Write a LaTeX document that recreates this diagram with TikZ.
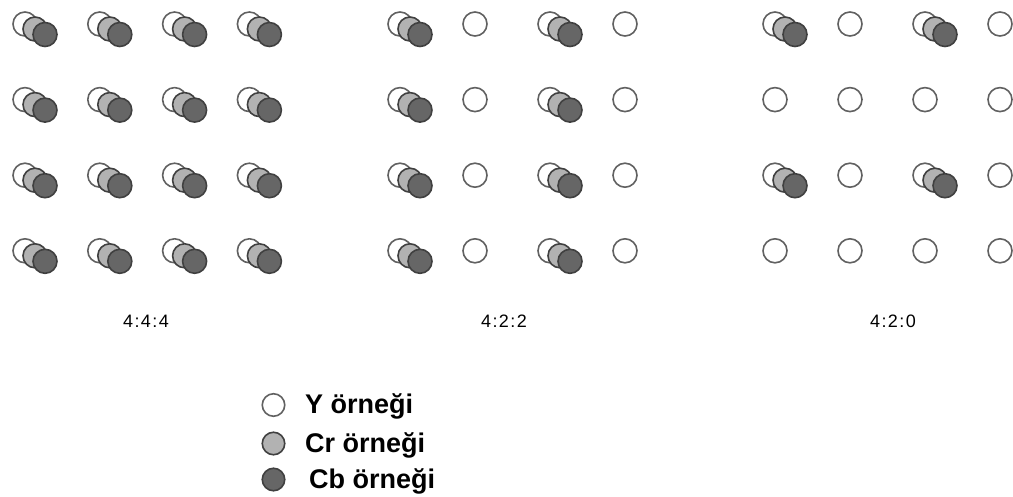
\documentclass[tikz,border=0pt]{standalone}
\usepackage{fontspec}
\setmainfont{Liberation Sans}
\definecolor{ygray}{gray}{0.38}
\definecolor{cgray}{gray}{0.25}
\definecolor{crfill}{gray}{0.70}
\definecolor{cbfill}{gray}{0.40}
\newcommand\smpgroup[3]{%
  \node[ysmp] (#1-y) at (#2,#3) {};
  \node[crsmp] (#1-cr) at (#2+10,#3+5) {};
  \node[cbsmp] (#1-cb) at (#2+20,#3+10.5) {};
}
\newcommand\ratio[3]{#1\kern1.4pt:\kern1.4pt#2\kern1.4pt:\kern1.4pt#3}
\begin{document}
\begin{tikzpicture}[x=1pt,y=-1pt,
  smp/.style={circle,inner sep=0pt,minimum size=24pt,line width=1.6pt},
  ysmp/.style={smp,draw=ygray,fill=white},
  crsmp/.style={smp,draw=cgray,fill=crfill},
  cbsmp/.style={smp,draw=cgray,fill=cbfill},
  lab/.style={font=\fontsize{18}{18}\selectfont,anchor=base,inner sep=0pt},
  leg/.style={font=\fontsize{27}{27}\selectfont\bfseries,anchor=base west,inner sep=0pt}]
\useasboundingbox (0,0) rectangle (1013,497);
% 4:4:4
\foreach \c in {0,...,3}{
  \foreach \r in {0,...,3}{
    \pgfmathsetmacro\xx{25+74.8*\c}
    \pgfmathsetmacro\yy{24+75.6*\r}
    \smpgroup{a\c\r}{\xx}{\yy}
  }
}
% 4:2:2
\foreach \c in {0,...,3}{
  \foreach \r in {0,...,3}{
    \pgfmathsetmacro\xx{400+75*\c}
    \pgfmathsetmacro\yy{24+75.6*\r}
    \ifodd\c
      \node[ysmp] (b\c\r-y) at (\xx,\yy) {};
    \else
      \smpgroup{b\c\r}{\xx}{\yy}
    \fi
  }
}
% 4:2:0
\foreach \c in {0,...,3}{
  \foreach \r in {0,...,3}{
    \pgfmathsetmacro\xx{775+75*\c}
    \pgfmathsetmacro\yy{24+75.6*\r}
    \pgfmathtruncatemacro\isgrp{(mod(\c,2)==0 && mod(\r,2)==0) ? 1 : 0}
    \ifnum\isgrp=1
      \smpgroup{c\c\r}{\xx}{\yy}
    \else
      \node[ysmp] (c\c\r-y) at (\xx,\yy) {};
    \fi
  }
}
% labels
\node[lab] (l444) at (146,328) {\ratio{4}{4}{4}};
\node[lab] (l422) at (504,328) {\ratio{4}{2}{2}};
\node[lab] (l420) at (893,328) {\ratio{4}{2}{0}};
% legend
\node[ysmp,minimum size=22.5pt] (legY) at (273.5,405) {};
\node[crsmp,minimum size=22.5pt] (legCr) at (273.5,443.5) {};
\node[cbsmp,minimum size=22.5pt] (legCb) at (273.5,479.5) {};
\node[leg] (tY) at (305,413) {Y örneği};
\node[leg] (tCr) at (305,452) {Cr örneği};
\node[leg] (tCb) at (309,488) {Cb örneği};
\end{tikzpicture}
\end{document}
